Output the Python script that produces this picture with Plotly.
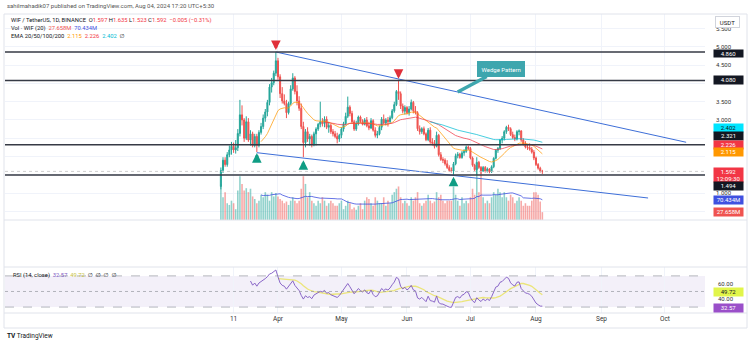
import numpy as np
import pandas as pd
import plotly.graph_objects as go

W, H = 750, 344
FONT = "Roboto, DejaVu Sans, sans-serif"


def fx(X):
    return X / W


def fy(Y):
    return 1 - Y / H


# ---------------- data: WIF/USDT daily, Binance ----------------
dates = pd.date_range("2024-03-05", "2024-08-04", freq="D")

opens = [
    # Mar 5 - Mar 31
    1.18, 1.62, 1.90, 1.78, 2.05, 2.18, 2.28, 2.18, 2.24, 2.63, 3.14, 3.00, 2.50, 2.95,
    2.45, 2.62, 2.30, 2.55, 2.30, 2.66, 2.82, 3.05, 3.22, 3.48, 3.90, 4.02, 4.28,
    # Apr
    4.62, 4.18, 3.72, 3.52, 3.45, 3.20, 3.45, 3.85, 4.15, 3.78, 3.52, 3.32, 2.82, 2.38, 2.68,
    2.48, 2.55, 2.32, 2.62, 2.75, 2.88, 2.95, 2.90, 3.02, 2.80, 2.85, 2.68, 2.62, 2.55, 2.48,
    # May
    2.58, 2.75, 2.90, 3.10, 3.35, 3.18, 2.95, 2.75, 2.90, 3.08, 2.96, 2.88, 3.00, 2.84, 2.78,
    2.98, 2.72, 2.58, 2.62, 2.80, 3.02, 2.92, 3.00, 2.95, 3.06, 3.25, 3.42, 3.78, 3.72, 3.38, 3.24,
    # Jun
    3.34, 3.20, 3.30, 3.48, 3.25, 3.20, 2.76, 2.68, 2.76, 2.62, 2.46, 2.72, 2.40, 2.36, 2.28,
    2.58, 2.05, 1.92, 1.90, 1.80, 1.70, 1.62, 1.60, 1.80, 2.02, 2.06, 1.97, 2.10, 2.14, 2.26,
    # Jul
    2.22, 1.96, 1.76, 1.64, 1.84, 1.70, 1.60, 1.70, 1.60, 1.66, 1.58, 1.72, 1.95, 2.17, 2.22,
    2.45, 2.50, 2.68, 2.80, 2.76, 2.60, 2.52, 2.48, 2.68, 2.70, 2.45, 2.33, 2.26, 2.24, 2.20, 2.12,
    # Aug
    1.96, 1.78, 1.68, 1.597,
]
highs = [
    1.70, 1.98, 1.98, 2.12, 2.30, 2.40, 2.38, 2.45, 2.75, 3.55, 3.40, 3.05, 3.10, 3.05,
    2.72, 2.68, 2.62, 2.62, 2.72, 2.92, 3.15, 3.30, 3.55, 3.98, 4.15, 4.35, 4.86,
    4.70, 4.25, 3.90, 3.70, 3.55, 3.50, 3.95, 4.28, 4.20, 3.95, 3.65, 3.45, 2.95, 2.75, 2.80,
    2.62, 2.60, 2.68, 2.80, 2.92, 3.50, 3.05, 3.10, 3.10, 2.95, 2.90, 2.75, 2.70, 2.65, 2.62,
    2.80, 2.95, 3.20, 3.64, 3.40, 3.25, 3.00, 2.98, 3.12, 3.12, 3.02, 3.05, 3.08, 2.95, 3.05,
    3.02, 2.80, 2.70, 2.85, 3.08, 3.15, 3.05, 3.08, 3.12, 3.30, 3.50, 3.82, 4.10, 3.78, 3.45, 3.40,
    3.38, 3.38, 3.56, 3.52, 3.38, 3.24, 2.85, 2.80, 2.82, 2.66, 2.78, 2.80, 2.50, 2.45, 2.68,
    2.62, 2.12, 1.98, 1.95, 1.90, 1.76, 1.70, 1.85, 2.08, 2.12, 2.10, 2.15, 2.20, 2.30, 2.30,
    2.26, 2.00, 1.80, 1.98, 1.88, 1.74, 1.74, 1.74, 1.70, 1.68, 1.76, 1.98, 2.20, 2.26, 2.48,
    2.56, 2.72, 2.84, 2.87, 2.80, 2.68, 2.60, 2.72, 2.74, 2.72, 2.50, 2.42, 2.34, 2.36, 2.26, 2.18,
    2.00, 1.82, 1.72, 1.635,
]
lows = [
    1.10, 1.55, 1.72, 1.72, 1.98, 2.05, 2.10, 2.08, 2.15, 2.55, 2.85, 2.40, 2.45, 2.40,
    2.30, 2.25, 2.25, 2.12, 2.25, 2.60, 2.75, 2.95, 3.10, 3.40, 3.75, 3.95, 4.20,
    4.10, 3.60, 3.45, 3.40, 3.05, 3.15, 3.40, 3.80, 3.70, 3.40, 3.25, 2.75, 1.98, 2.25, 2.40,
    2.30, 2.25, 2.28, 2.30, 2.70, 2.80, 2.82, 2.80, 2.75, 2.65, 2.62, 2.55, 2.50, 2.36, 2.40,
    2.50, 2.68, 2.85, 3.05, 3.10, 2.90, 2.70, 2.70, 2.85, 2.92, 2.85, 2.85, 2.80, 2.72, 2.75,
    2.68, 2.52, 2.50, 2.58, 2.72, 2.88, 2.85, 2.82, 2.92, 3.02, 3.20, 3.38, 3.55, 3.30, 3.18, 3.15,
    3.15, 3.12, 3.26, 3.18, 3.15, 2.70, 2.60, 2.62, 2.58, 2.42, 2.42, 2.35, 2.30, 2.22, 2.25,
    2.00, 1.88, 1.82, 1.75, 1.66, 1.58, 1.56, 1.50, 1.76, 1.95, 1.94, 1.94, 2.02, 2.10, 2.18,
    1.92, 1.72, 1.60, 1.50, 1.66, 1.52, 1.58, 1.56, 1.56, 1.54, 1.55, 1.68, 1.92, 2.10, 2.18,
    2.36, 2.44, 2.62, 2.70, 2.56, 2.48, 2.42, 2.44, 2.58, 2.40, 2.30, 2.22, 2.18, 2.16, 2.08, 1.90,
    1.74, 1.64, 1.56, 1.523,
]
closes = [
    1.62, 1.90, 1.78, 2.05, 2.18, 2.28, 2.18, 2.24, 2.63, 3.14, 3.00, 2.50, 2.95, 2.45,
    2.62, 2.30, 2.55, 2.30, 2.66, 2.82, 3.05, 3.22, 3.48, 3.90, 4.02, 4.28, 4.62,
    4.18, 3.72, 3.52, 3.45, 3.20, 3.45, 3.85, 4.15, 3.78, 3.52, 3.32, 2.82, 2.38, 2.68, 2.48,
    2.55, 2.32, 2.62, 2.75, 2.88, 2.95, 2.90, 3.02, 2.80, 2.85, 2.68, 2.62, 2.55, 2.48, 2.58,
    2.75, 2.90, 3.10, 3.35, 3.18, 2.95, 2.75, 2.90, 3.08, 2.96, 2.88, 3.00, 2.84, 2.78, 2.98,
    2.72, 2.58, 2.62, 2.80, 3.02, 2.92, 3.00, 2.95, 3.06, 3.25, 3.42, 3.78, 3.72, 3.38, 3.24, 3.34,
    3.20, 3.30, 3.48, 3.25, 3.20, 2.76, 2.68, 2.76, 2.62, 2.46, 2.72, 2.40, 2.36, 2.28, 2.58,
    2.05, 1.92, 1.90, 1.80, 1.70, 1.62, 1.60, 1.80, 2.02, 2.06, 1.97, 2.10, 2.14, 2.26, 2.22,
    1.96, 1.76, 1.64, 1.84, 1.70, 1.60, 1.70, 1.60, 1.66, 1.58, 1.72, 1.95, 2.17, 2.22, 2.45,
    2.50, 2.68, 2.80, 2.76, 2.60, 2.52, 2.48, 2.68, 2.70, 2.45, 2.33, 2.26, 2.24, 2.20, 2.12, 1.96,
    1.78, 1.68, 1.597, 1.592,
]
# volume in millions of WIF
volumes = [
    127, 80, 98, 59, 53, 68, 59, 38, 104, 154, 127, 104, 112, 98, 110, 83, 74, 59, 68, 89,
    80, 98, 89, 68, 98, 83, 95,
    83, 74, 68, 59, 65, 53, 68, 80, 68, 59, 68, 110, 154, 127, 80, 98, 68, 59, 50, 68,
    59, 80, 68, 50, 59, 68, 59, 50, 50, 59,
    68, 38, 50, 68, 59, 38, 44, 36, 50, 59, 38, 68, 80, 74, 59, 50, 80, 68, 59, 59,
    80, 50, 68, 59, 89, 98, 110, 118, 80, 59, 68,
    59, 50, 80, 68, 80, 98, 59, 50, 59, 68, 89, 68, 59, 65, 98, 80, 89, 68, 59, 68,
    68, 68, 118, 89, 68, 50, 80, 59, 68, 59,
    80, 110, 89, 184, 98, 186, 80, 59, 68, 59, 80, 98, 89, 110, 98, 80, 98, 80, 68, 89,
    80, 59, 68, 80, 68, 50, 59, 50, 50, 68, 98,
    98, 89, 65, 27.658,
]

levels = [4.860, 4.080, 2.321, 1.494]
last_price = 1.592
upper_wedge_x = ["2024-03-31", "2024-10-11"]
upper_wedge_y = [4.86, 2.39]
lower_wedge_x = ["2024-03-22", "2024-09-23"]
lower_wedge_y = [2.104, 0.864]

tick_dates = ["2024-03-11", "2024-04-01", "2024-05-01", "2024-06-01",
              "2024-07-01", "2024-08-01", "2024-09-01", "2024-10-01"]
tick_text = ["11", "Apr", "May", "Jun", "Jul", "Aug", "Sep", "Oct"]
price_grid = [0.5, 1.0, 1.5, 2.0, 2.5, 3.0, 3.5, 4.0, 4.5, 5.0, 5.5]
price_labels = [1.0, 3.0, 3.5, 4.5, 5.0, 5.5]

# ---------------- indicators ----------------
c = np.array(closes, dtype=float)
o = np.array(opens, dtype=float)


def ema_tv(src, n):
    out = np.full(len(src), np.nan)
    if len(src) < n:
        return out
    a = 2.0 / (n + 1)
    out[n - 1] = src[:n].mean()
    for i in range(n, len(src)):
        out[i] = a * src[i] + (1 - a) * out[i - 1]
    return out


def rsi_tv(src, n=14):
    d = np.diff(src)
    up = np.maximum(d, 0)
    dn = np.maximum(-d, 0)
    out = np.full(len(src), np.nan)
    au = up[:n].mean()
    ad = dn[:n].mean()
    out[n] = 100 - 100 / (1 + au / ad)
    for i in range(n + 1, len(src)):
        au = (au * (n - 1) + up[i - 1]) / n
        ad = (ad * (n - 1) + dn[i - 1]) / n
        out[i] = 100 - 100 / (1 + au / ad)
    return out


ema20 = ema_tv(c, 20)
ema50 = ema_tv(c, 50)
ema100 = ema_tv(c, 100)
rsi = rsi_tv(c, 14)
rsi_ma = pd.Series(rsi).rolling(14).mean().values
vol_ma = pd.Series(volumes, dtype=float).rolling(20).mean().values

UP, DOWN = "#26a69a", "#ef5350"
vol_colors = ["rgba(38,166,154,0.5)" if cl >= op else "rgba(239,83,80,0.5)"
              for op, cl in zip(o, c)]

# ---------------- figure ----------------
fig = go.Figure()

fig.add_trace(go.Bar(x=dates, y=volumes, marker_color=vol_colors, marker_line_width=0,
                     xaxis="x", yaxis="y", hoverinfo="skip"))
fig.add_trace(go.Scatter(x=dates, y=vol_ma, mode="lines", line=dict(color="#3f51e0", width=0.8),
                         xaxis="x", yaxis="y", hoverinfo="skip"))

fig.add_trace(go.Candlestick(x=dates, open=opens, high=highs, low=lows, close=closes,
                             increasing=dict(line=dict(color=UP, width=1), fillcolor=UP),
                             decreasing=dict(line=dict(color=DOWN, width=1), fillcolor=DOWN),
                             whiskerwidth=0, xaxis="x", yaxis="y2", hoverinfo="skip"))
for series, col in [(ema20, "#ff9800"), (ema50, "#f23645"), (ema100, "#00bcd4")]:
    fig.add_trace(go.Scatter(x=dates, y=series, mode="lines", line=dict(color=col, width=0.9),
                             opacity=0.8, xaxis="x", yaxis="y2", hoverinfo="skip"))

for wx, wy in [(upper_wedge_x, upper_wedge_y), (lower_wedge_x, lower_wedge_y)]:
    fig.add_trace(go.Scatter(x=pd.to_datetime(wx), y=wy, mode="lines",
                             line=dict(color="#3e6fd8", width=1), xaxis="x", yaxis="y2",
                             hoverinfo="skip"))

fig.add_trace(go.Scatter(x=dates, y=rsi_ma, mode="lines", line=dict(color="#ebe57a", width=1.3),
                         xaxis="x", yaxis="y3", hoverinfo="skip"))
fig.add_trace(go.Scatter(x=dates, y=rsi, mode="lines", line=dict(color="#7e57c2", width=0.9),
                         xaxis="x", yaxis="y3", hoverinfo="skip"))

# ---------------- shapes ----------------
shapes = []
for lv in levels:
    shapes.append(dict(type="line", xref="x domain", x0=0, x1=1, yref="y2", y0=lv, y1=lv,
                       line=dict(color="#363a45", width=1.3)))
shapes.append(dict(type="line", xref="x domain", x0=0, x1=1, yref="y2", y0=last_price,
                   y1=last_price, line=dict(color="#c4c4c4", width=0.8, dash="dot")))
# RSI band and guides
shapes.append(dict(type="rect", xref="x domain", x0=0, x1=1, yref="y3", y0=30, y1=70,
                   fillcolor="rgba(126,87,194,0.09)", line=dict(width=0), layer="below"))
for lv, dash in [(70, "dash"), (50, "dot"), (30, "dash")]:
    shapes.append(dict(type="line", xref="x domain", x0=0, x1=1, yref="y3", y0=lv, y1=lv,
                       line=dict(color="#9598a1", width=0.7, dash=dash)))
# pane separators and frame
for Y in (220, 267, 313):
    shapes.append(dict(type="line", xref="paper", yref="paper", x0=fx(4), x1=fx(747),
                       y0=fy(Y), y1=fy(Y), line=dict(color="#e0e3eb", width=1)))
shapes.append(dict(type="rect", xref="paper", yref="paper", x0=fx(4), x1=fx(747),
                   y0=fy(328), y1=fy(14), line=dict(color="#e0e3eb", width=1)))

# ---------------- annotations ----------------
ann = []
RED = "#f23645"
ann.append(dict(xref="paper", yref="paper", x=fx(5), y=fy(5), xanchor="left", yanchor="middle",
                showarrow=False, font=dict(size=6, color="#555", family=FONT),
                text="sahilmahadik07 published on TradingView.com, Aug 04, 2024 17:20 UTC+5:30"))
line2 = ("WIF / TetherUS, 1D, BINANCE\u00a0\u00a0"
         f"O<span style='color:{RED}'>1.597</span>\u00a0H<span style='color:{RED}'>1.635</span>"
         f"\u00a0L<span style='color:{RED}'>1.523</span>\u00a0C<span style='color:{RED}'>1.592</span>"
         f"\u00a0\u00a0<span style='color:{RED}'>\u22120.005 (\u22120.31%)</span>")
line3 = ("Vol \u00b7 WIF (20)\u00a0\u00a0<span style='color:#ef5350'>27.658M</span>"
         "\u00a0\u00a0<span style='color:#3f51e0'>70.434M</span>")
line4 = ("EMA 20/50/100/200\u00a0\u00a0<span style='color:#ff9800'>2.115</span>"
         "\u00a0\u00a0<span style='color:#f23645'>2.226</span>"
         "\u00a0\u00a0<span style='color:#00bcd4'>2.402</span>\u00a0\u00a0\u2205")
for txt, Y in [(line2, 20.5), (line3, 28.3), (line4, 36)]:
    ann.append(dict(xref="paper", yref="paper", x=fx(9), y=fy(Y), xanchor="left",
                    yanchor="middle", showarrow=False, text=txt,
                    font=dict(size=5.8, color="#131722", family=FONT)))
rsi_leg = ("RSI (14, close)\u00a0\u00a0<span style='color:#7e57c2'>32.57</span>"
           "\u00a0\u00a0<span style='color:#c8c23a'>49.72</span>\u00a0\u00a0\u2205\u00a0\u00a0\u2205"
           "\u00a0\u00a0\u2205\u00a0\u00a0\u2205")
ann.append(dict(xref="paper", yref="paper", x=fx(11), y=fy(275.5), xanchor="left",
                yanchor="middle", showarrow=False, text=rsi_leg,
                font=dict(size=5.8, color="#131722", family=FONT)))
ann.append(dict(xref="paper", yref="paper", x=fx(5), y=fy(336), xanchor="left", yanchor="middle",
                showarrow=False, text="<b>TV</b> TradingView",
                font=dict(size=6.5, color="#131722", family=FONT)))


# axis value boxes
def box(text, yref, yval, bg, yshift=0, h=7.5, fg="white"):
    return dict(xref="paper", x=fx(713), xanchor="left", yref=yref, y=yval, yanchor="middle",
                text=text, showarrow=False, bgcolor=bg, width=29, height=h, align="center",
                yshift=yshift, borderpad=0, font=dict(size=6, color=fg, family=FONT))


ann += [
    box("4.860", "y2", 4.860, "#131722", yshift=-2, h=7),
    box("4.080", "y2", 4.080, "#131722"),
    box("2.402", "y2", 2.402, "#00e5ff", yshift=14, fg="#131722"),
    box("2.321", "y2", 2.321, "#131722", yshift=8.5),
    box("2.226", "y2", 2.226, "#f23645", yshift=3.5),
    box("2.115", "y2", 2.115, "#ff9800", yshift=0),
    box("1.592<br>12:09:30", "y2", last_price, "#f23645", yshift=-3.5, h=14),
    box("1.494", "y2", 1.494, "#131722", yshift=-11),
    box("70.434M", "y", 70.434, "#3f51e0"),
    box("27.658M", "y", 27.658, "#ef5350"),
    box("49.72", "y3", 49.72, "#e1f54a", fg="#131722"),
    box("32.57", "y3", 32.57, "#9a4fc9", yshift=-3),
]
ann.append(dict(xref="paper", yref="paper", x=fx(715), y=fy(21.5), xanchor="left",
                yanchor="middle", text="USDT", showarrow=False, bgcolor="white",
                bordercolor="#d1d4dc", borderwidth=1, borderpad=1.5, width=20,
                font=dict(size=6, color="#131722", family=FONT)))

# swing arrows
for d, yv, col, ay, so in [("2024-03-31", 4.86, "#e0303a", -10, 2),
                           ("2024-05-28", 4.10, "#e0303a", -10, 1),
                           ("2024-03-22", 2.12, "#0f9d84", 11, 1),
                           ("2024-04-13", 1.98, "#0f9d84", 11, 3),
                           ("2024-06-23", 1.50, "#0f9d84", 11, 2)]:
    ann.append(dict(x=d, y=yv, xref="x", yref="y2", ax=0, ay=ay, axref="pixel", ayref="pixel",
                    showarrow=True, arrowhead=2, arrowsize=0.6, arrowwidth=3.2,
                    arrowcolor=col, standoff=so, text=""))

# callout on the upper wedge line
call_x = pd.Timestamp("2024-06-25")
ux0, ux1 = pd.to_datetime(upper_wedge_x)
frac = (call_x - ux0) / (ux1 - ux0)
call_y = upper_wedge_y[0] + frac * (upper_wedge_y[1] - upper_wedge_y[0])
ann.append(dict(x=call_x, y=call_y, xref="x", yref="y2", ax=43, ay=-23, text="Wedge Pattern",
                showarrow=True, arrowhead=0, arrowwidth=3.5, arrowcolor="#3ea6ae",
                bgcolor="#3ea6ae", bordercolor="#3ea6ae", borderpad=3.5,
                font=dict(size=6, color="white", family=FONT)))

# ---------------- layout ----------------
main_dom = [fy(220), fy(14)]
empty_dom = [fy(267), fy(220)]
rsi_dom = [fy(313), fy(267)]
GRID = "#f0f3fa"
TICKF = dict(size=6, color="#333", family=FONT)

fig.update_layout(
    width=W, height=H, margin=dict(l=0, r=0, t=0, b=0),
    paper_bgcolor="white", plot_bgcolor="white",
    showlegend=False, hovermode=False, bargap=0.25,
    font=dict(family=FONT),
    shapes=shapes, annotations=ann,
    xaxis=dict(domain=[fx(5), fx(705)], anchor="y3",
               range=["2023-11-23 22:00", "2024-10-19 22:00"],
               tickvals=tick_dates, ticktext=tick_text,
               tickfont=dict(size=6.5, color="#333", family=FONT),
               showgrid=True, gridcolor=GRID, gridwidth=1, zeroline=False,
               rangeslider=dict(visible=False), showline=False, ticks=""),
    yaxis=dict(domain=main_dom, anchor="x", range=[0, 725], visible=False, fixedrange=True),
    yaxis2=dict(domain=main_dom, anchor="x", overlaying="y", side="right",
                range=[0.2622, 5.900], tickvals=price_labels,
                ticktext=[f"{v:.3f}" for v in price_labels], tickfont=TICKF,
                showgrid=True, gridcolor=GRID, zeroline=False, ticks="", ticklabelstandoff=10,
                minor=dict(tickvals=price_grid, showgrid=True, gridcolor=GRID, ticks="")),
    yaxis4=dict(domain=empty_dom, anchor="x", side="right", range=[-0.639, 0.667],
                tickvals=[-0.5, 0, 0.5], ticktext=["\u22120.50", "0.00", "0.50"],
                tickfont=TICKF, showgrid=False, zeroline=False, ticks="", ticklabelstandoff=13),
    yaxis3=dict(domain=rsi_dom, anchor="x", side="right", range=[22.4, 81.4],
                tickvals=[40, 60], ticktext=["40.00", "60.00"], tickfont=TICKF,
                showgrid=False, zeroline=False, ticks="", ticklabelstandoff=12),
)

fig.write_html("out.html")
